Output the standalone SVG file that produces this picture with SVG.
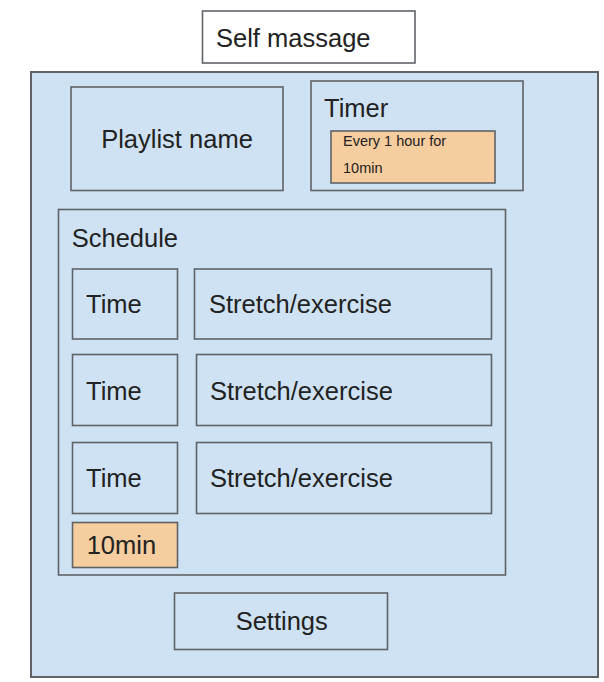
<svg xmlns="http://www.w3.org/2000/svg" width="604" height="682" viewBox="0 0 604 682">
<style>
.box{fill:#cfe2f3;stroke:#5f6368;stroke-width:1.6}
.white{fill:#ffffff;stroke:#5f6368;stroke-width:1.6}
.orange{fill:#f6cd9f;stroke:#5f6368;stroke-width:1.6}
.main{fill:#cfe2f3;stroke:#5f6368;stroke-width:2}
text{font-family:"Liberation Sans",Arial,sans-serif;font-size:25.5px;fill:#222222}
.small{font-size:14.5px}
</style>
<rect width="604" height="682" fill="#ffffff"/>
<g id="title">
<rect class="white" x="202.5" y="11" width="212.5" height="52"/>
<text x="216" y="46.5">Self massage</text>
</g>
<g id="main">
<rect class="main" x="31" y="72" width="567" height="605"/>
</g>
<g id="playlist">
<rect class="box" x="71" y="87" width="212" height="103.5"/>
<text x="177" y="148.3" text-anchor="middle">Playlist name</text>
</g>
<g id="timer">
<rect class="box" x="311" y="81" width="212" height="109.5"/>
<text x="324" y="116.7">Timer</text>
</g>
<g id="timer-value">
<rect class="orange" x="331" y="131" width="164" height="52"/>
<text class="small" x="343" y="146">Every 1 hour for</text>
<text class="small" x="343" y="172.7">10min</text>
</g>
<g id="schedule">
<rect class="box" x="58.5" y="209.5" width="447" height="365.5"/>
<text x="71.7" y="246.7">Schedule</text>
</g>
<g id="time1">
<rect class="box" x="72.5" y="269" width="105" height="70"/>
<text x="86" y="313.3">Time</text>
</g>
<g id="stretch1">
<rect class="box" x="194.5" y="269" width="297" height="70"/>
<text x="209" y="313.3">Stretch/exercise</text>
</g>
<g id="time2">
<rect class="box" x="72.5" y="354.5" width="105" height="71"/>
<text x="86" y="400">Time</text>
</g>
<g id="stretch2">
<rect class="box" x="196.5" y="354.5" width="295" height="71"/>
<text x="210" y="400">Stretch/exercise</text>
</g>
<g id="time3">
<rect class="box" x="72.5" y="442.5" width="105" height="71"/>
<text x="86" y="487.3">Time</text>
</g>
<g id="stretch3">
<rect class="box" x="196.5" y="442.5" width="295" height="71"/>
<text x="210" y="487.3">Stretch/exercise</text>
</g>
<g id="duration">
<rect class="orange" x="72.5" y="522.5" width="105" height="45"/>
<text x="86.7" y="554.3">10min</text>
</g>
<g id="settings">
<rect class="box" x="174.5" y="593" width="213" height="56.5"/>
<text x="281.7" y="630" text-anchor="middle">Settings</text>
</g>
<g id="connectors"></g>
</svg>
